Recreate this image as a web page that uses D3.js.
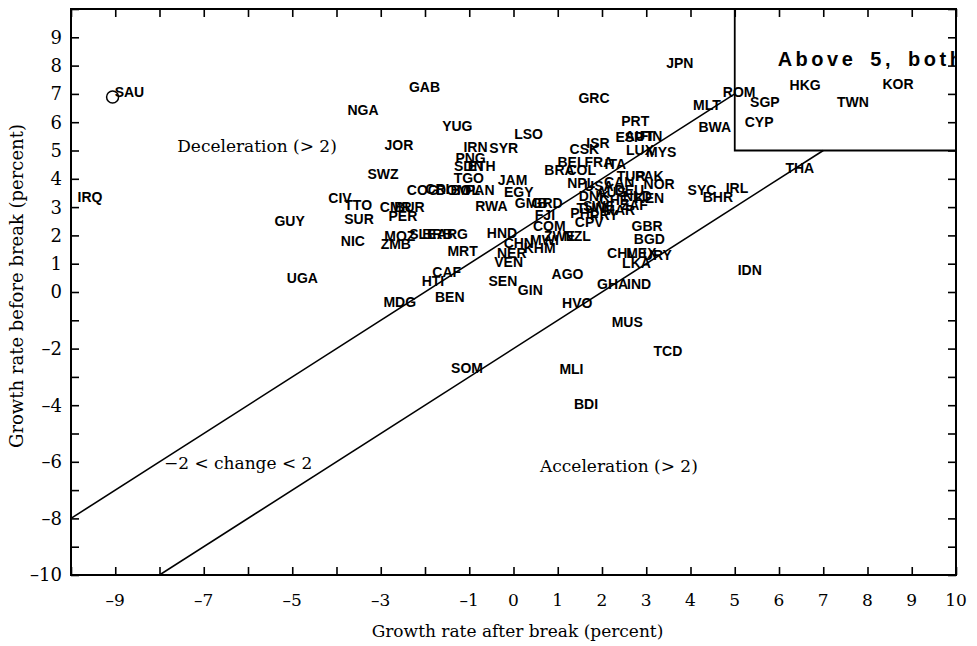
<!DOCTYPE html>
<html>
<head>
<meta charset="utf-8">
<script src="https://cdn.jsdelivr.net/npm/d3@7"></script>
<style>
  body { margin: 0; background: #fff; }
  svg { display: block; }
</style>
</head>
<body>
<svg id="chart" width="977" height="646"></svg>
<script>
// country codes with growth after break (x) and before break (y), percent
const codes = [
  "IRQ","SAU","GUY","UGA","GAB","NGA","JOR","YUG","SWZ","CIV","TTO","SUR","NIC","ZMB","MOZ",
  "SLE","BRB","ARG","CMR","BUR","PER","COG","CRI","DOM","BOL","PAN","EGY","RWA","MRT","HND",
  "CAF","HTI","BEN","MDG","IRN","SYR","PNG","SDN","ETH","TGO","JAM","LSO","GRC","PRT","ISR",
  "CSK","ESP","AUT","FIN","LUX","MYS","BEL","FRA","ITA","BRA","COL","TUR","PAK","NOR","SYC",
  "IRL","BHR","NPL","USA","CAN","AUS","DEU","DNK","CHE","NLD","SWE","KEN","ZAF","MAR","TUN",
  "PHL","CPV","PRY","GMB","GRD","FJI","COM","ZWE","NZL","MWI","CHN","KHM","NER","VEN","SEN",
  "GIN","AGO","HVO","GBR","BGD","CHL","MEX","URY","LKA","GHA","IND","IDN","THA","MUS","TCD",
  "SOM","MLI","BDI","JPN","ROM","MLT","BWA","HKG","SGP","CYP","TWN","KOR"
];
const after = [
  -9.57,-8.68,-5.06,-4.77,-2.01,-3.40,-2.59,-1.27,-2.95,-3.92,-3.51,-3.49,-3.63,-2.66,-2.57,
  -2.05,-1.72,-1.38,-2.66,-2.35,-2.50,-2.05,-1.72,-1.38,-1.09,-0.75,0.12,-0.50,-1.15,-0.26,
  -1.51,-1.82,-1.44,-2.57,-0.86,-0.22,-0.97,-1.01,-0.72,-1.01,-0.02,0.34,1.82,2.75,1.91,
  1.60,2.62,2.84,3.11,2.86,3.34,1.31,1.93,2.30,1.04,1.53,2.66,3.07,3.29,4.26,
  5.05,4.62,1.53,1.93,2.39,2.21,2.62,1.82,2.28,2.80,1.93,3.07,2.73,2.39,1.75,
  1.60,1.71,2.05,0.40,0.76,0.71,0.81,1.04,1.44,0.70,0.12,0.59,-0.04,-0.11,-0.24,
  0.38,1.22,1.44,3.02,3.07,2.44,2.89,3.25,2.78,2.24,2.84,5.34,6.47,2.57,3.49,
  -1.05,1.31,1.64,3.76,5.10,4.37,4.55,6.59,5.68,5.55,7.67,8.69
];
const before = [
  3.36,7.07,2.51,0.49,7.24,6.43,5.19,5.87,4.17,3.32,3.07,2.58,1.80,1.70,1.98,
  2.05,2.05,2.05,3.00,3.00,2.69,3.60,3.64,3.60,3.60,3.60,3.53,3.04,1.45,2.08,
  0.71,0.39,-0.18,-0.35,5.12,5.09,4.73,4.45,4.45,4.03,3.96,5.58,6.86,6.04,5.27,
  5.05,5.48,5.51,5.51,5.02,4.95,4.59,4.59,4.52,4.31,4.31,4.10,4.10,3.82,3.60,
  3.67,3.36,3.85,3.75,3.89,3.53,3.60,3.39,3.25,3.39,3.04,3.32,3.07,2.90,2.97,
  2.79,2.47,2.72,3.14,3.14,2.72,2.33,1.98,1.98,1.84,1.73,1.55,1.38,1.06,0.39,
  0.07,0.64,-0.39,2.33,1.87,1.38,1.38,1.31,1.02,0.28,0.28,0.78,4.38,-1.06,-2.08,
  -2.69,-2.72,-3.96,8.09,7.07,6.61,5.83,7.31,6.71,6.01,6.71,7.35
];
// the circled observation next to SAU
const circledAfter = [-9.06];
const circledBefore = [6.89];

// boundaries: before = after + offset, and the corner box
const bandOffsets = [2, -2];
const boxCorner = [5, 5];

const xTickValues = d3.range(-10, 11);
const xTickLabels = [-9, -7, -5, -3, -1, 0, 1, 2, 3, 4, 5, 6, 7, 8, 9, 10];
const yTickValues = d3.range(-10, 11);
const yTickLabels = [9, 8, 7, 6, 5, 4, 3, 2, 1, 0, -2, -4, -6, -8, -10];

const regionText = [
  { label: "Deceleration (> 2)", x: -7.6, y: 4.95 },
  { label: "\u22122 < change < 2", x: -7.9, y: -6.25 },
  { label: "Acceleration (> 2)", x: 0.6, y: -6.35 }
];

const svg = d3.select("#chart");
const x = d3.scaleLinear().domain([-10, 10]).range([71, 956]);
const y = d3.scaleLinear().domain([-10, 10]).range([575, 9]);

const serif = "'DejaVu Serif', 'Liberation Serif', serif";
const sans = "'Liberation Sans', Arial, sans-serif";
const fmt = v => v < 0 ? "\u2013" + Math.abs(v) : String(v);

svg.append("clipPath").attr("id", "plotclip")
  .append("rect")
  .attr("x", x(-10)).attr("y", y(10))
  .attr("width", x(10) - x(-10)).attr("height", y(-10) - y(10));

const plot = svg.append("g").attr("clip-path", "url(#plotclip)");

// boundary lines, the upper one stopping at the box
const upperEnd = boxCorner[0];
const lowerEnd = boxCorner[1] + 2;
const lines = [
  [[-10, -10 + bandOffsets[0]], [upperEnd, upperEnd + bandOffsets[0]]],
  [[-10 - bandOffsets[1], -10], [lowerEnd, lowerEnd + bandOffsets[1]]]
];
plot.selectAll(".band")
  .data(lines)
  .enter()
  .append("line")
  .attr("class", "band")
  .attr("x1", d => x(d[0][0])).attr("y1", d => y(d[0][1]))
  .attr("x2", d => x(d[1][0])).attr("y2", d => y(d[1][1]))
  .attr("stroke", "#000")
  .attr("stroke-width", 1.6);

// box for growth above 5 in both periods
plot.append("path")
  .attr("d", `M${x(boxCorner[0])},${y(10)} V${y(boxCorner[1])} H${x(10)}`)
  .attr("fill", "none")
  .attr("stroke", "#000")
  .attr("stroke-width", 1.8);

plot.append("text")
  .attr("x", x(5.97))
  .attr("y", y(8.0))
  .attr("font-family", sans)
  .attr("font-weight", "bold")
  .attr("font-size", 20)
  .attr("letter-spacing", 3.5)
  .attr("word-spacing", 5)
  .text("Above 5, both");

// country labels
plot.selectAll(".cty")
  .data(codes)
  .enter()
  .append("text")
  .attr("class", "cty")
  .attr("x", (d, i) => x(after[i]))
  .attr("y", (d, i) => y(before[i]))
  .attr("dy", "0.36em")
  .attr("text-anchor", "middle")
  .attr("font-family", sans)
  .attr("font-weight", "bold")
  .attr("font-size", 14)
  .text(d => d);

plot.selectAll(".circ")
  .data(circledAfter)
  .enter()
  .append("circle")
  .attr("class", "circ")
  .attr("cx", d => x(d))
  .attr("cy", (d, i) => y(circledBefore[i]))
  .attr("r", 6)
  .attr("fill", "none")
  .attr("stroke", "#000")
  .attr("stroke-width", 1.5);

// region annotations
svg.selectAll(".region")
  .data(regionText)
  .enter()
  .append("text")
  .attr("class", "region")
  .attr("x", d => x(d.x))
  .attr("y", d => y(d.y))
  .attr("font-family", serif)
  .attr("font-size", 17)
  .text(d => d.label);

// frame
svg.append("rect")
  .attr("x", x(-10)).attr("y", y(10))
  .attr("width", x(10) - x(-10)).attr("height", y(-10) - y(10))
  .attr("fill", "none")
  .attr("stroke", "#000")
  .attr("stroke-width", 2);

// inward ticks on all four sides
const tk = 8;
const axisStyle = g => {
  g.select(".domain").remove();
  g.selectAll(".tick line").attr("stroke", "#000").attr("stroke-width", 1.6);
};
svg.append("g")
  .attr("transform", `translate(0,${y(-10)})`)
  .call(d3.axisBottom(x).tickValues(xTickValues).tickSize(-tk).tickFormat(""))
  .call(axisStyle);
svg.append("g")
  .attr("transform", `translate(0,${y(10)})`)
  .call(d3.axisTop(x).tickValues(xTickValues).tickSize(-tk).tickFormat(""))
  .call(axisStyle);
svg.append("g")
  .attr("transform", `translate(${x(-10)},0)`)
  .call(d3.axisLeft(y).tickValues(yTickValues).tickSize(-tk).tickFormat(""))
  .call(axisStyle);
svg.append("g")
  .attr("transform", `translate(${x(10)},0)`)
  .call(d3.axisRight(y).tickValues(yTickValues).tickSize(-tk).tickFormat(""))
  .call(axisStyle);

// tick labels
svg.selectAll(".xl")
  .data(xTickLabels)
  .enter()
  .append("text")
  .attr("class", "xl")
  .attr("x", d => x(d))
  .attr("y", y(-10) + 31)
  .attr("text-anchor", "middle")
  .attr("font-family", serif)
  .attr("font-size", 17)
  .text(fmt);

svg.selectAll(".yl")
  .data(yTickLabels)
  .enter()
  .append("text")
  .attr("class", "yl")
  .attr("x", x(-10) - 9)
  .attr("y", d => y(d))
  .attr("dy", "0.36em")
  .attr("text-anchor", "end")
  .attr("font-family", serif)
  .attr("font-size", 18)
  .text(fmt);

// axis titles
svg.append("text")
  .attr("x", (x(-10) + x(10)) / 2 + 4)
  .attr("y", 637)
  .attr("text-anchor", "middle")
  .attr("font-family", serif)
  .attr("font-size", 17)
  .text("Growth rate after break (percent)");

svg.append("text")
  .attr("transform", `translate(23,${y(0) - 6}) rotate(-90)`)
  .attr("text-anchor", "middle")
  .attr("font-family", serif)
  .attr("font-size", 18)
  .text("Growth rate before break (percent)");
</script>
</body>
</html>
